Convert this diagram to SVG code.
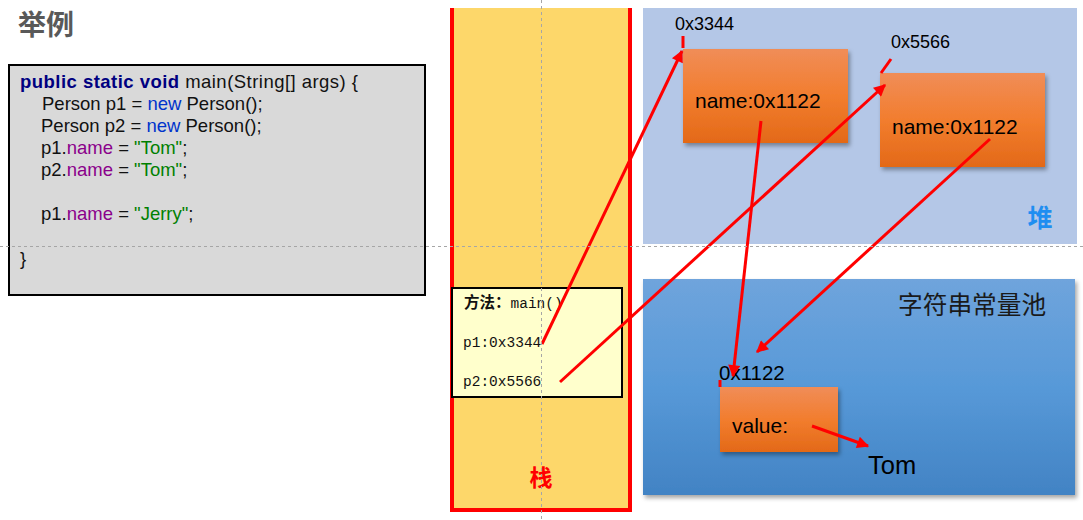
<svg xmlns="http://www.w3.org/2000/svg" width="1083" height="520" viewBox="0 0 1083 520">
<defs>
<linearGradient id="og" x1="0" y1="0" x2="0" y2="1">
<stop offset="0" stop-color="#f08d58"/>
<stop offset="0.5" stop-color="#f27d2e"/>
<stop offset="1" stop-color="#e36918"/>
</linearGradient>
<linearGradient id="bg" x1="0" y1="0" x2="0" y2="1">
<stop offset="0" stop-color="#6fa4dc"/>
<stop offset="0.5" stop-color="#5799d8"/>
<stop offset="1" stop-color="#4283c4"/>
</linearGradient>
<filter id="sh" x="-10%" y="-10%" width="125%" height="130%">
<feDropShadow dx="2" dy="3" stdDeviation="2" flood-color="#000" flood-opacity="0.35"/>
</filter>
<marker id="ah" viewBox="0 0 10 10" refX="9" refY="5" markerWidth="5" markerHeight="4" orient="auto" markerUnits="strokeWidth">
<path d="M0,0 L10,5 L0,10 z" fill="#ff0000"/>
</marker>
<style>
.code{font-family:"Liberation Sans",Arial,sans-serif;font-size:18.5px;fill:#111}
.kw{fill:#000080;font-weight:bold}
.nw{fill:#0033cc}
.fd{fill:#8b008b}
.st{fill:#008000}
.lbl{font-family:"Liberation Sans",Arial,sans-serif;fill:#000}
.mono{font-family:"Liberation Mono","DejaVu Sans Mono",monospace;font-size:14.5px;fill:#111}
.obj{fill:url(#og);filter:url(#sh)}
.arr{stroke:#ff0000;stroke-width:3;fill:none;marker-end:url(#ah)}
.tick{stroke:#ff0000;stroke-width:3;fill:none}
.guide{stroke:#a6a6a6;stroke-width:1;stroke-dasharray:3,3;fill:none}
</style>
</defs>
<rect width="1083" height="520" fill="#ffffff"/>

<g id="title">
<text x="18" y="35" font-family="'Noto Sans CJK SC',sans-serif" font-size="28" font-weight="bold" fill="#595959">举例</text>
</g>

<g id="code">
<rect x="9" y="65" width="416" height="230" fill="#d9d9d9" stroke="#000" stroke-width="2"/>
<text class="code" x="20" y="88" textLength="338" lengthAdjust="spacing"><tspan class="kw">public static void</tspan> main(String[] args) {</text>
<text class="code" x="42" y="110">Person p1 = <tspan class="nw">new</tspan> Person();</text>
<text class="code" x="41" y="132">Person p2 = <tspan class="nw">new</tspan> Person();</text>
<text class="code" x="41" y="154">p1.<tspan class="fd">name</tspan> = <tspan class="st">"Tom"</tspan>;</text>
<text class="code" x="41" y="176">p2.<tspan class="fd">name</tspan> = <tspan class="st">"Tom"</tspan>;</text>
<text class="code" x="41" y="220">p1.<tspan class="fd">name</tspan> = <tspan class="st">"Jerry"</tspan>;</text>
<text class="code" x="20" y="265">}</text>
</g>

<g id="stack">
<rect x="450" y="8" width="182" height="504" fill="#fdd76a"/>
<path d="M452,8 V510 H630 V8" fill="none" stroke="#ff0000" stroke-width="4"/>
<text x="541" y="486" text-anchor="middle" font-family="'Noto Sans CJK SC',sans-serif" font-size="23" font-weight="bold" fill="#ff0000">栈</text>
</g>

<g id="method">
<rect x="452" y="288" width="170" height="109" fill="#ffffcc" stroke="#000" stroke-width="2"/>
<text x="464" y="308"><tspan font-family="'Noto Sans CJK SC',sans-serif" font-size="15.5" font-weight="bold" fill="#111">方法：</tspan><tspan class="mono">main()</tspan></text>
<text class="mono" x="463" y="347">p1:0x3344</text>
<text class="mono" x="463" y="386">p2:0x5566</text>
</g>

<g id="heap">
<rect x="643" y="8" width="434" height="236" fill="#b4c7e7"/>
<text x="1040" y="227" text-anchor="middle" font-family="'Noto Sans CJK SC',sans-serif" font-size="25" font-weight="bold" fill="#1f8ef1">堆</text>
</g>

<g id="obj1">
<rect class="obj" x="683" y="49" width="165" height="94"/>
<text class="lbl" x="695" y="108" font-size="21">name:0x1122</text>
<text class="lbl" x="675" y="30" font-size="18">0x3344</text>
</g>

<g id="obj2">
<rect class="obj" x="880" y="73" width="165" height="94"/>
<text class="lbl" x="892" y="134" font-size="21">name:0x1122</text>
<text class="lbl" x="891" y="48" font-size="18">0x5566</text>
</g>

<g id="pool">
<rect x="643" y="279" width="432" height="216" fill="url(#bg)" filter="url(#sh)"/>
<text x="898" y="314" font-family="'Noto Sans CJK SC',sans-serif" font-size="24.7" fill="#1a1a1a">字符串常量池</text>
</g>

<g id="strobj">
<rect class="obj" x="720" y="387" width="118" height="65"/>
<text class="lbl" x="732" y="433" font-size="21">value:</text>
<text class="lbl" x="719" y="380" font-size="20.5">0x1122</text>
</g>

<g id="tom">
<text class="lbl" x="868" y="474" font-size="25.5">Tom</text>
</g>

<g id="connectors">
<line class="tick" x1="683" y1="36" x2="683" y2="48"/>
<line class="tick" x1="891" y1="59" x2="881" y2="73"/>
<line class="tick" x1="720" y1="380" x2="720" y2="387"/>
<line class="arr" x1="542" y1="344" x2="682" y2="51"/>
<line class="arr" x1="560" y1="382" x2="885" y2="85"/>
<line class="arr" x1="761" y1="121" x2="733" y2="376"/>
<line class="arr" x1="990" y1="139" x2="757" y2="352"/>
<line class="arr" x1="812" y1="426" x2="868" y2="446"/>
</g>

<g id="guides">
<line class="guide" x1="0" y1="246.5" x2="1083" y2="246.5"/>
<line class="guide" x1="541.5" y1="0" x2="541.5" y2="520"/>
</g>
</svg>
